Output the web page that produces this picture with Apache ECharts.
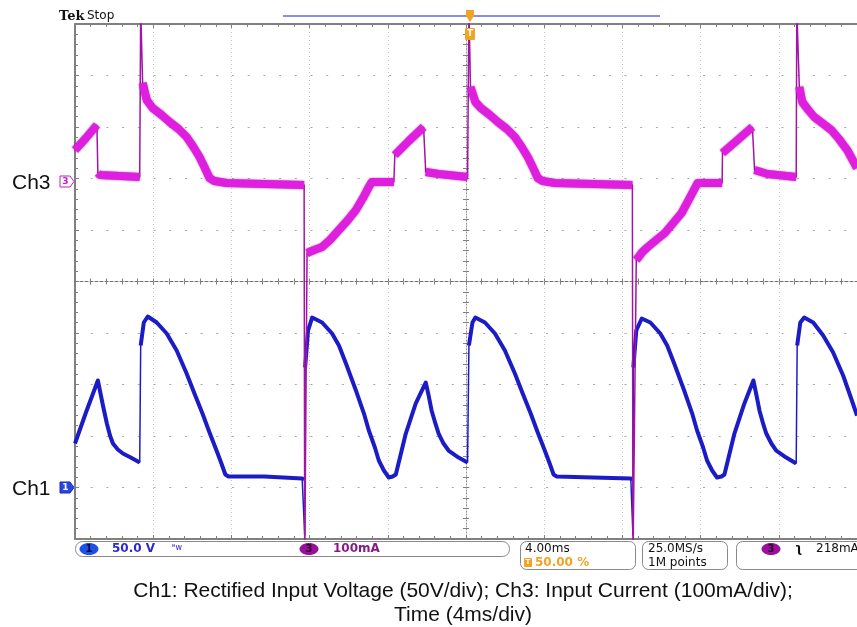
<!DOCTYPE html>
<html><head><meta charset="utf-8">
<script src="https://cdn.jsdelivr.net/npm/echarts@6/dist/echarts.min.js"></script>
<style>html,body{margin:0;padding:0;background:#fff;overflow:hidden}#c{width:857px;height:627px}</style>
</head><body><div id="c"></div>
<script>
// Time relative to trigger (ms), 4 ms/div
const ch1Time = [-20.00,-19.44,-18.83,-18.57,-18.37,-18.21,-18.06,-17.81,-17.55,-17.15,-16.69,-16.64,-16.48,-16.28,-15.82,-15.31,-14.80,-14.29,-13.89,-13.48,-13.12,-12.76,-12.51,-12.31,-12.15,-10.32,-8.38,-8.28,-8.25,-8.23,-8.08,-7.87,
  -7.36,-6.85,-6.50,-6.14,-5.63,-5.22,-4.97,-4.66,-4.46,-4.20,-3.95,-3.75,-3.59,-3.08,-2.57,-2.06,-1.91,-1.76,-1.55,-1.40,-1.15,-0.89,-0.38,0.08,0.15,0.33,0.48,
  0.97,1.48,1.99,2.50,2.90,3.31,3.67,4.03,4.28,4.48,4.64,6.50,8.43,8.51,8.54,8.56,8.71,8.99,
  9.43,9.94,10.29,10.65,11.16,11.57,11.82,12.13,12.33,12.59,12.84,13.07,13.22,13.73,14.24,14.70,14.86,15.01,15.21,15.36,15.62,15.87,16.38,16.89,16.94,17.10,17.30,
  17.76,18.27,18.78,19.29,19.65,20.00];
// Ch1: rectified input voltage (V), 50 V/div
const ch1Volts = [42.7,72.8,103.9,79.6,62.1,50.5,42.7,36.9,33.0,29.1,24.3,137.9,160.2,166.0,160.2,149.5,133.0,110.7,91.3,71.8,53.4,35.9,23.3,12.6,10.7,10.7,8.7,7.8,-46.6,116.5,152.4,165.0,
  160.2,149.5,137.9,120.4,94.2,71.8,55.3,38.8,26.2,16.5,9.7,10.7,12.6,52.4,81.6,101.9,89.3,74.8,61.2,52.4,42.7,35.9,29.1,24.3,137.9,160.2,165.0,
  160.2,149.5,133.0,110.7,91.3,71.8,53.4,35.9,23.3,12.6,10.7,9.7,8.7,7.8,-46.6,116.5,152.4,164.1,
  160.2,149.5,137.9,120.4,94.2,71.8,55.3,38.8,26.2,16.5,9.7,10.7,12.6,52.4,81.6,103.9,89.3,74.8,61.2,52.4,42.7,35.9,29.1,23.3,137.9,160.2,165.0,
  160.2,147.6,131.1,108.7,89.3,69.9];
const ch3Time = [-20.00,-19.44,-18.88,-18.83,-18.73,-17.71,-16.69,-16.64,-16.54,-16.33,-16.03,-15.57,-15.16,-14.70,-14.29,-13.94,-13.63,-13.38,-13.12,-12.87,-12.25,-10.32,-8.28,-8.25,
  -8.13,-7.77,-7.36,-6.96,-6.50,-6.04,-5.63,-5.27,-4.97,-4.82,-3.69,-3.64,-2.93,-2.17,-2.06,-1.40,0.08,0.15,
  0.23,0.48,0.76,1.22,1.63,2.09,2.50,2.85,3.16,3.41,3.67,3.92,4.54,6.50,8.51,8.54,
  8.71,9.02,9.30,9.73,10.17,10.60,11.03,11.44,11.85,11.95,13.10,13.12,13.89,14.65,14.76,15.42,16.89,16.92,
  17.05,17.20,17.51,17.81,18.22,18.68,19.08,19.50,20.00];
// Ch3: input current (mA), 100 mA/div
const ch3Milliamps = [55.3,78.7,103.9,10.7,6.8,4.9,2.9,330,185.5,152.4,136.9,123.3,109.7,96.1,80.6,61.2,41.8,22.3,1.0,-4.9,-8.7,-10.7,-12.6,-750,
  -144.7,-138.9,-133.0,-119.4,-100.0,-80.6,-61.2,-37.9,-16.5,-6.8,-6.8,45.6,72.8,100.0,12.6,8.7,2.9,330,
  177.7,148.6,136.9,123.3,109.7,96.1,80.6,61.2,41.8,22.3,1.0,-4.9,-8.7,-10.7,-12.6,-750,
  -158.3,-142.7,-133.0,-119.4,-105.8,-86.4,-67.0,-37.9,-8.7,-6.8,-8.7,49.5,74.8,100.0,16.5,8.7,2.9,330,
  177.7,148.6,133.0,119.4,107.8,94.2,76.7,55.3,20.4];
const captionLines = ['Ch1: Rectified Input Voltage (50V/div); Ch3: Input Current (100mA/div);','Time (4ms/div)'];
const statusTexts = {ch1Scale:'50.0 V', ch3Scale:'100mA', timebase:'4.00ms', trigPos:'50.00 %', rate:'25.0MS/s', points:'1M points', trigLevel:'218mA'};

const pair = (t, v) => t.map((x, i) => [x, v[i]]);
// same samples, with the line broken across fast edges so the band is drawn only on slow parts
function bandOf(t, v, maxDt, minDv) {
  const out = [];
  for (let i = 0; i < t.length; i++) {
    if (i > 0 && t[i] - t[i-1] <= maxDt && Math.abs(v[i] - v[i-1]) >= minDv) out.push([(t[i] + t[i-1]) / 2, '-']);
    out.push([t[i], v[i]]);
  }
  return out;
}
const GRAY = '#808080';
const tickCol = {lineStyle:{color:GRAY,width:1}};
function xa(extra){return Object.assign({type:'value',min:-20,max:20,interval:4,axisLabel:{show:false},splitLine:{show:false},minorSplitLine:{show:false}},extra);}
function ya(extra){return Object.assign({type:'value',min:-5,max:5,interval:1,axisLabel:{show:false},splitLine:{show:false},minorSplitLine:{show:false}},extra);}

const chart = echarts.init(document.getElementById('c'), null, {renderer:'canvas'});
const monoFont = '12px "DejaVu Sans"';
const mid = {align:'center',verticalAlign:'middle',textAlign:'center',textVerticalAlign:'middle'};
const vmid = {verticalAlign:'middle',textVerticalAlign:'middle'};
const option = {
  animation:false,
  backgroundColor:'#ffffff',
  grid:{left:75, top:24, width:785, height:515, containLabel:false},
  xAxis:[
    xa({position:'bottom',axisLine:{show:true,onZero:false,lineStyle:{color:GRAY,width:2}},axisTick:Object.assign({show:true,inside:true,length:4},tickCol),minorTick:Object.assign({show:true,splitNumber:5,length:3},tickCol),splitLine:{show:true,lineStyle:{color:'#c4c4c4',width:1,type:[1,3]}}}),
    xa({position:'top',axisLine:{show:true,onZero:false,lineStyle:{color:GRAY,width:2}},axisTick:Object.assign({show:true,inside:true,length:4},tickCol),minorTick:Object.assign({show:true,splitNumber:5,length:3},tickCol)}),
    xa({position:'bottom',axisLine:{show:true,onZero:true,onZeroAxisIndex:0,lineStyle:{color:'#707070',width:1,type:[3,2]}},axisTick:Object.assign({show:true,inside:true,length:3},tickCol),minorTick:Object.assign({show:true,splitNumber:5,length:3},tickCol)}),
    xa({position:'bottom',axisLine:{show:false,onZero:true,onZeroAxisIndex:0},axisTick:Object.assign({show:true,inside:false,length:3},tickCol),minorTick:Object.assign({show:true,splitNumber:5,length:3},tickCol)})
  ],
  yAxis:[
    ya({position:'left',axisLine:{show:true,onZero:false,lineStyle:{color:GRAY,width:2}},axisTick:Object.assign({show:true,inside:true,length:4},tickCol),minorTick:Object.assign({show:true,splitNumber:5,length:3},tickCol),splitLine:{show:true,lineStyle:{color:'#a8a8a8',width:1,type:[2,13.7]}}}),
    ya({position:'left',axisLine:{show:true,onZero:true,onZeroAxisIndex:0,lineStyle:{color:'#909090',width:1,type:[1,2]}},axisTick:Object.assign({show:true,inside:true,length:3},tickCol),minorTick:Object.assign({show:true,splitNumber:5,length:3},tickCol)}),
    ya({position:'left',axisLine:{show:false,onZero:true,onZeroAxisIndex:0},axisTick:Object.assign({show:true,inside:false,length:3},tickCol),minorTick:Object.assign({show:true,splitNumber:5,length:3},tickCol)}),
    {type:'value',min:-50,max:450,interval:50,show:false},
    {type:'value',min:-700,max:300,interval:100,show:false}
  ],
  series:[
    {name:'Ch1 edges',type:'line',xAxisIndex:0,yAxisIndex:3,data:pair(ch1Time,ch1Volts),showSymbol:false,clip:true,
     lineStyle:{color:'#1c1cc6',width:1.5},z:3},
    {name:'Ch1',type:'line',xAxisIndex:0,yAxisIndex:3,data:bandOf(ch1Time,ch1Volts,0.2,40),showSymbol:false,clip:true,connectNulls:false,
     lineStyle:{color:'#1c1cc6',width:4,join:'round'},z:3},
    {name:'Ch3 edges',type:'line',xAxisIndex:0,yAxisIndex:4,data:pair(ch3Time,ch3Milliamps),showSymbol:false,clip:true,
     lineStyle:{color:'#a414a4',width:1.5},z:4},
    {name:'Ch3',type:'line',xAxisIndex:0,yAxisIndex:4,data:bandOf(ch3Time,ch3Milliamps,0.2,35),showSymbol:false,clip:true,connectNulls:false,
     lineStyle:{color:'#e01ee0',width:8,join:'round',shadowColor:'rgba(110,0,110,0.7)',shadowBlur:2},z:4}
  ],
  graphic:[
    {type:'text',left:59,top:10,style:{text:'Tek',font:'bold 13px "DejaVu Serif"',fill:'#111'}},
    {type:'text',left:87,top:10,style:{text:'Stop',font:'12px "DejaVu Sans"',fill:'#111'}},
    {type:'line',shape:{x1:283,y1:16,x2:660,y2:16},style:{stroke:'#8c8ce0',lineWidth:2}},
    {type:'rect',shape:{x:466,y:10,width:8,height:6},style:{fill:'#f2a322'}},
    {type:'polygon',shape:{points:[[466,16],[474,16],[470,22]]},style:{fill:'#f2a322'}},
    {type:'rect',shape:{x:465,y:28,width:10,height:12,r:1},style:{fill:'#f2a322'},z:10},
    {type:'text',x:470,y:34,style:Object.assign({text:'T',font:'bold 9px "DejaVu Sans"',fill:'#fff'},mid),z:11},
    {type:'text',x:12,y:183,style:Object.assign({text:'Ch3',font:'21px "Liberation Sans"',fill:'#111'},vmid)},
    {type:'text',x:12,y:489,style:Object.assign({text:'Ch1',font:'21px "Liberation Sans"',fill:'#111'},vmid)},
    {type:'polygon',shape:{points:[[60,176],[70,176],[74,181.5],[70,187],[60,187]]},style:{fill:'#fff',stroke:'#c020c0',lineWidth:1}},
    {type:'text',x:65.5,y:182,style:Object.assign({text:'3',font:'bold 9px "DejaVu Sans"',fill:'#c020c0'},mid)},
    {type:'polygon',shape:{points:[[60,482],[70,482],[74,487.5],[70,493],[60,493]]},style:{fill:'#2a46e0',stroke:'#1a2ab0',lineWidth:1}},
    {type:'text',x:65.5,y:488,style:Object.assign({text:'1',font:'bold 9px "DejaVu Sans"',fill:'#fff'},mid)},
    {type:'rect',shape:{x:75.5,y:541.5,width:434,height:15,r:7},style:{fill:'#fff',stroke:'#8a8a8a',lineWidth:1}},
    {type:'ellipse',shape:{cx:89,cy:549,rx:9.5,ry:6},style:{fill:'#2050e8'}},
    {type:'text',x:89,y:549,style:Object.assign({text:'1',font:'bold 10px "DejaVu Sans"',fill:'#0a0a40'},mid)},
    {type:'text',x:112,y:549,style:Object.assign({text:statusTexts.ch1Scale,font:'bold '+monoFont,fill:'#2a2ad0'},vmid)},
    {type:'text',x:172,y:548,style:Object.assign({text:'ᴮw',font:'8px "DejaVu Sans"',fill:'#2a2ad0'},vmid)},
    {type:'ellipse',shape:{cx:309,cy:549,rx:9.5,ry:6},style:{fill:'#9a109a'}},
    {type:'text',x:309,y:549,style:Object.assign({text:'3',font:'bold 10px "DejaVu Sans"',fill:'#300030'},mid)},
    {type:'text',x:333,y:549,style:Object.assign({text:statusTexts.ch3Scale,font:'bold '+monoFont,fill:'#8a1a8a'},vmid)},
    {type:'rect',shape:{x:520.5,y:541.5,width:115,height:28,r:6},style:{fill:'#fff',stroke:'#8a8a8a',lineWidth:1}},
    {type:'text',x:525,y:549,style:Object.assign({text:statusTexts.timebase,font:monoFont,fill:'#111'},vmid)},
    {type:'rect',shape:{x:524,y:558,width:8,height:9,r:1},style:{fill:'#f2a322'}},
    {type:'text',x:528,y:562.5,style:Object.assign({text:'T',font:'bold 7px "DejaVu Sans"',fill:'#fff'},mid)},
    {type:'text',x:535,y:563,style:Object.assign({text:statusTexts.trigPos,font:'bold '+monoFont,fill:'#f2a322'},vmid)},
    {type:'rect',shape:{x:642.5,y:541.5,width:85,height:28,r:6},style:{fill:'#fff',stroke:'#8a8a8a',lineWidth:1}},
    {type:'text',x:648,y:549,style:Object.assign({text:statusTexts.rate,font:monoFont,fill:'#111'},vmid)},
    {type:'text',x:648,y:563,style:Object.assign({text:statusTexts.points,font:monoFont,fill:'#111'},vmid)},
    {type:'rect',shape:{x:736.5,y:541.5,width:140,height:28,r:6},style:{fill:'#fff',stroke:'#8a8a8a',lineWidth:1}},
    {type:'ellipse',shape:{cx:771,cy:549,rx:9.5,ry:6},style:{fill:'#9a109a'}},
    {type:'text',x:771,y:549,style:Object.assign({text:'3',font:'bold 10px "DejaVu Sans"',fill:'#300030'},mid)},
    {type:'text',x:795,y:549,style:Object.assign({text:'ʅ',font:'bold 12px "DejaVu Sans"',fill:'#111'},vmid)},
    {type:'text',x:816,y:549,style:Object.assign({text:statusTexts.trigLevel,font:monoFont,fill:'#111'},vmid)},
    {type:'text',x:463,y:591,style:Object.assign({text:captionLines[0],font:'21px "Liberation Sans"',fill:'#111'},mid)},
    {type:'text',x:463,y:615,style:Object.assign({text:captionLines[1],font:'21px "Liberation Sans"',fill:'#111'},mid)}
  ]
};
chart.setOption(option);
</script></body></html>
